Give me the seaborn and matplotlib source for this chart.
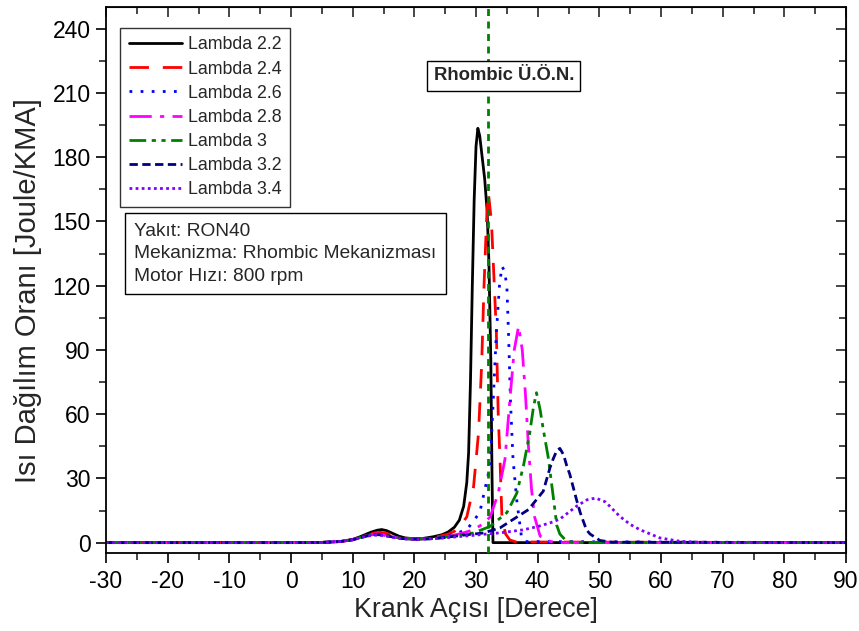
import matplotlib
matplotlib.use("Agg")
import matplotlib.pyplot as plt
import seaborn as sns
import numpy as np
from matplotlib.ticker import MultipleLocator

# ---------------- data ----------------
labels = ["Lambda 2.2", "Lambda 2.4", "Lambda 2.6", "Lambda 2.8",
          "Lambda 3", "Lambda 3.2", "Lambda 3.4"]

x_22 = [-30, 0, 5, 8, 10, 11, 12, 13, 14, 14.7, 15.5, 16.5, 17.5, 18.5, 20, 21.5, 23, 24.5,
        25.5, 26.5, 27.3, 28, 28.5, 28.8, 29.1, 29.4, 29.7, 30.0, 30.3, 30.6, 31.0, 31.4,
        31.8, 32.1, 32.4, 32.6, 32.75, 35, 90]
y_22 = [0, 0, 0.1, 0.5, 1.5, 2.5, 3.7, 4.9, 5.8, 6.1, 5.6, 4.3, 3.0, 2.2, 1.8, 2.0, 2.7, 3.7,
        5.0, 7.2, 10.5, 17, 28, 42, 75, 120, 160, 185, 193.5, 190, 180, 170,
        155, 130, 85, 30, 0, 0, 0]

x_24 = [-30, 0, 5, 8, 10, 12, 13.5, 14.5, 15.5, 17, 18.5, 20, 22, 24, 25.5, 26.5, 27.5, 28.5,
        29.6, 30.4, 30.9, 31.3, 31.7, 32.0, 32.5, 33.0, 33.3, 33.6, 33.9, 34.2, 34.8, 35.5,
        36.5, 90]
y_24 = [0, 0, 0.1, 0.5, 1.4, 3.3, 4.5, 4.8, 4.3, 2.9, 2.0, 1.7, 1.9, 2.9, 4.0, 5.3, 8.0, 12,
        26, 51, 82, 120, 150, 163.5, 150, 118, 98, 60, 38, 12, 4, 1.2,
        0.3, 0]

x_26 = [-30, 0, 5, 8, 10, 12, 13.8, 15, 16.5, 18, 20, 22, 24, 26, 28.5, 30.6, 32.3, 32.8,
        33.3, 33.8, 34.2, 34.6, 35.0, 35.3, 35.6, 36.0, 36.6, 37.4, 38, 90]
y_26 = [0, 0, 0.1, 0.5, 1.4, 3.0, 4.0, 3.6, 2.7, 1.9, 1.6, 1.8, 2.4, 3.6, 6, 14, 36, 67,
        98, 120, 129, 127, 120, 95, 65, 39, 20, 2, 0.5, 0]

x_28 = [-30, 0, 5, 8, 10, 12, 13.8, 15, 16.5, 18, 20, 22, 24, 26, 28, 29.6, 31, 32.3, 33.6,
        34.7, 35.5, 36.2, 36.9, 37.5, 38.0, 38.5, 39.0, 39.5, 40.4, 42, 43, 90]
y_28 = [0, 0, 0.1, 0.5, 1.4, 3.1, 4.1, 3.7, 2.7, 1.9, 1.6, 1.8, 2.3, 3.2, 4.6, 6, 8.5, 12, 23,
        39, 67, 90, 101, 90, 70, 45, 25, 12, 3, 0.6, 0, 0]

x_30 = [-30, 0, 5, 8, 10, 12, 13.5, 15, 16.5, 18, 20, 22, 24, 26, 28, 29.6, 32.3, 35.0,
        36.6, 37.7, 38.7, 39.3, 39.8, 40.4, 40.9, 41.7, 42.5, 43.1, 43.6, 44.7, 46, 90]
y_30 = [0, 0, 0.1, 0.5, 1.4, 3.0, 4.0, 3.6, 2.7, 1.9, 1.6, 1.7, 2.2, 3.0, 3.9, 4.5, 7.6, 14,
        23, 36, 51, 63, 70, 62, 53, 40, 22, 8, 4, 0.6, 0, 0]

x_32 = [-30, 0, 5, 8, 10, 12, 13.5, 15, 16.5, 18, 20, 22, 24, 26, 28, 31.2, 33.9, 36.0,
        38.5, 40.9, 42.0, 42.5, 43.1, 43.6, 44.2, 44.7, 45.2, 46.3, 46.9, 47.9, 48.5, 50.1,
        52, 90]
y_32 = [0, 0, 0.1, 0.5, 1.3, 2.9, 3.8, 3.5, 2.6, 1.9, 1.6, 1.7, 2.1, 2.8, 3.5, 4.5, 6.9, 10.8,
        15.4, 24, 35, 39, 43, 44, 41, 36, 32, 20, 14, 6, 4, 1,
        0.2, 0]

x_34 = [-30, 0, 5, 8, 10, 12, 13.3, 15, 16.5, 18, 20, 22, 24, 26, 28, 30, 32.3, 34, 37.7,
        40, 42.0, 43.6, 46.3, 48, 49.4, 51, 53.3, 55, 56.6, 59.8, 63.1, 68, 90]
y_34 = [0, 0, 0.1, 0.5, 1.3, 2.8, 3.5, 3.3, 2.5, 1.9, 1.6, 1.7, 2.0, 2.5, 3.0, 3.5, 4.2, 4.6, 6,
        7.5, 9.2, 11, 17, 20, 20.8, 19, 12.3, 8.5, 6, 2.2, 0.6, 0, 0]

tdc_angle = 32          # Rhombic Ü.Ö.N. (TDC) reference line
x_ticks = list(range(-30, 91, 10))
y_ticks = list(range(0, 241, 30))

series_x = [x_22, x_24, x_26, x_28, x_30, x_32, x_34]
series_y = [y_22, y_24, y_26, y_28, y_30, y_32, y_34]

# ---------------- style ----------------
colors = ["#000000", "#ff0000", "#0000ff", "#ff00ff", "#008000", "#000080", "#8000ff"]
styles = ["-", (0, (7, 5)), (0, (1, 3)), (0, (8, 3, 1.5, 3)), (0, (6, 2, 1.5, 2, 1.5, 2)),
          (0, (3, 1.6)), (0, (1, 1.2))]

sns.set_style("ticks")
plt.rcParams["font.family"] = ["Liberation Sans", "DejaVu Sans"]
plt.rcParams["axes.unicode_minus"] = False

fig = plt.figure(figsize=(8.59, 6.31), dpi=100)
ax = fig.add_axes([0.1234, 0.1231, 0.8615, 0.8653])

for xs, ys, lab, c, ls in zip(series_x, series_y, labels, colors, styles):
    sns.lineplot(x=xs, y=ys, ax=ax, color=c, linestyle=ls, linewidth=2.0,
                 label=lab, estimator=None, sort=False)

ax.axvline(tdc_angle, color="#008000", linestyle=(0, (2.5, 2)), linewidth=2.0, zorder=5)

ax.set_xlim(-30, 90)
ax.set_ylim(-5, 250)
ax.set_xticks(x_ticks)
ax.set_yticks(y_ticks)
ax.xaxis.set_minor_locator(MultipleLocator(5))
ax.yaxis.set_minor_locator(MultipleLocator(15))
ax.tick_params(axis="both", which="major", direction="out", length=7, width=1.2,
               labelsize=16.5, colors="black", pad=4)
ax.tick_params(axis="x", which="major", pad=5)
ax.tick_params(axis="both", which="minor", direction="out", length=5, width=1.2)
for s in ax.spines.values():
    s.set_linewidth(1.3)
    s.set_color("black")

# mirrored inward ticks on top and right
top = ax.secondary_xaxis("top")
top.set_xticks(x_ticks)
top.xaxis.set_minor_locator(MultipleLocator(5))
top.tick_params(which="major", direction="in", length=7, width=1.2, labeltop=False)
top.tick_params(which="minor", direction="in", length=5, width=1.2)
right = ax.secondary_yaxis("right")
right.set_yticks(y_ticks)
right.yaxis.set_minor_locator(MultipleLocator(15))
right.tick_params(which="major", direction="in", length=7, width=1.2, labelright=False)
right.tick_params(which="minor", direction="in", length=5, width=1.2)

ax.set_xlabel("Krank Açısı [Derece]", fontsize=19.3, labelpad=3)
ax.set_ylabel("Isı Dağılım Oranı [Joule/KMA]", fontsize=21)
ax.yaxis.set_label_coords(-0.087, 0.482)

leg = ax.legend(loc="upper left", bbox_to_anchor=(0.019, 0.963), fontsize=12.8,
                handlelength=3.0, handletextpad=0.3, labelspacing=0.4,
                frameon=True, fancybox=False, borderpad=0.5, borderaxespad=0)
leg.get_frame().set_edgecolor("black")
leg.get_frame().set_linewidth(1.0)

ax.text(0.038, 0.605, "Yakıt: RON40\nMekanizma: Rhombic Mekanizması\nMotor Hızı: 800 rpm",
        transform=ax.transAxes, fontsize=13.8, va="top", ha="left", linespacing=1.42,
        bbox=dict(boxstyle="square,pad=0.5", facecolor="white", edgecolor="black", linewidth=1.0))

ax.text(34.5, 218, "Rhombic Ü.Ö.N.", fontsize=13.3, fontweight="bold", ha="center", va="center",
        bbox=dict(boxstyle="square,pad=0.35", facecolor="white", edgecolor="black", linewidth=1.0),
        zorder=6)

fig.savefig("out.png", dpi=100)
